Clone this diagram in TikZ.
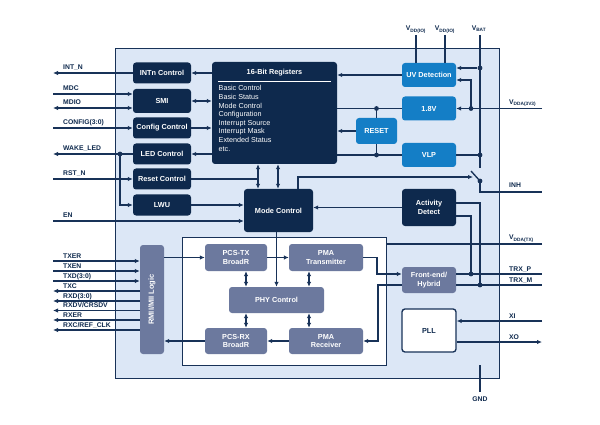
\documentclass[tikz,border=0pt]{standalone}
\usepackage{fontspec}
\setmainfont{Liberation Sans}
\usetikzlibrary{arrows.meta,calc}
\definecolor{chipnavy}{RGB}{14,41,77}
\definecolor{wireblue}{RGB}{24,50,88}
\definecolor{powerblue}{RGB}{20,126,198}
\definecolor{phygrey}{RGB}{108,121,158}
\definecolor{chipfill}{RGB}{220,231,246}

\begin{document}
\begin{tikzpicture}[x=1pt, y=-1pt, >={Latex[length=5pt,width=4.5pt]},
    wire/.style={draw=wireblue, line width=1.35pt},
    blk/.style={rounded corners=3pt, inner sep=1pt, align=center, text=white,
        font=\fontsize{7.3}{8.7}\selectfont\bfseries},
    navyblk/.style={blk, fill=chipnavy},
    powerblk/.style={blk, fill=powerblue},
    phyblk/.style={blk, fill=phygrey},
    pinlbl/.style={anchor=base west, inner sep=0pt, text=chipnavy,
        font=\fontsize{6.8}{7}\selectfont\bfseries},
    toplbl/.style={pinlbl, anchor=base},
    jdot/.style={circle, fill=wireblue, inner sep=0pt, minimum size=4.8pt}]
    \useasboundingbox (0,0) rectangle (600,425);

    % Chip outline and PHY core
    \node[draw=wireblue, fill=chipfill, line width=1.35pt, inner sep=0pt, anchor=north west,
        minimum width=384pt, minimum height=330pt] (chip) at (115,48) {};
    \node[draw=wireblue, fill=white, line width=1.35pt, inner sep=0pt, anchor=north west,
        minimum width=204pt, minimum height=128pt] (phybox) at (182,237) {};

    % Left control blocks
    \node[navyblk, minimum width=58pt, minimum height=21pt] (intn) at (162,73) {INTn Control};
    \node[navyblk, minimum width=58pt, minimum height=24pt] (smi) at (162,101) {SMI};
    \node[navyblk, minimum width=58pt, minimum height=21pt] (cfg) at (162,128) {Config Control};
    \node[navyblk, minimum width=58pt, minimum height=21pt] (led) at (162,154) {LED Control};
    \node[navyblk, minimum width=58pt, minimum height=21pt] (rstc) at (162,179) {Reset Control};
    \node[navyblk, minimum width=58pt, minimum height=21pt] (lwu) at (162,205) {LWU};

    % Register file
    \node[navyblk, minimum width=125pt, minimum height=102pt] (regs) at (274.5,113) {};
    \node[blk] (regstitle) at (274.5,73) {16-Bit Registers};
    \draw[white, line width=0.6pt] ($(regs.north west)+(6,20)$) -- ($(regs.north east)+(-6,20)$);
    \node[anchor=north west, inner sep=0pt, align=left, text=white,
        font=\fontsize{7.2}{8.6}\selectfont] (regslist) at (218.5,85.5)
        {Basic Control\\Basic Status\\Mode Control\\Configuration\\Interrupt Source\\Interrupt Mask\\Extended Status\\etc.};

    \node[navyblk, minimum width=69pt, minimum height=43pt] (mode) at (278.5,210.5) {Mode Control};

    % Power and right side blocks
    \node[powerblk, minimum width=54pt, minimum height=24pt] (uv) at (429,75) {UV Detection};
    \node[powerblk, minimum width=54pt, minimum height=24pt] (v18) at (429,108.5) {1.8V};
    \node[powerblk, minimum width=41pt, minimum height=26pt] (reset) at (376.5,131) {RESET};
    \node[powerblk, minimum width=54pt, minimum height=24pt] (vlp) at (429,155) {VLP};
    \node[navyblk, minimum width=54pt, minimum height=37pt] (act) at (429,207.5) {Activity\\Detect};
    \node[phyblk, minimum width=54pt, minimum height=26pt] (fe) at (429,280) {Front-end/\\Hybrid};
    \node[blk, draw=wireblue, line width=1.35pt, fill=white, text=chipnavy,
        minimum width=54pt, minimum height=43pt] (pll) at (429,330.5) {PLL};

    % PHY blocks
    \node[phyblk, minimum width=62pt, minimum height=27pt] (pcstx) at (236,257.5) {PCS-TX\\BroadR};
    \node[phyblk, minimum width=74pt, minimum height=27pt] (pmatx) at (326,257.5) {PMA\\Transmitter};
    \node[phyblk, minimum width=95pt, minimum height=26pt] (phyctl) at (276.5,300) {PHY Control};
    \node[phyblk, minimum width=62pt, minimum height=26pt] (pcsrx) at (236,341) {PCS-RX\\BroadR};
    \node[phyblk, minimum width=74pt, minimum height=26pt] (pmarx) at (326,341) {PMA\\Receiver};
    \node[phyblk, minimum width=24pt, minimum height=109pt] (rmii) at (152,299.5) {};
    \node[rotate=90, text=white, font=\fontsize{7.5}{8}\selectfont\bfseries] (rmiitext) at (rmii.center) {RMII/MII Logic};

    % Pin ends
    \coordinate (pINT) at (53,73);
    \coordinate (pMDC) at (53,94);
    \coordinate (pMDIO) at (53,108);
    \coordinate (pCFG) at (53,128);
    \coordinate (pWAKE) at (53,154);
    \coordinate (pRST) at (53,179);
    \coordinate (pEN) at (53,221);
    \coordinate (pTXER) at (53,261);
    \coordinate (pTXEN) at (53,271);
    \coordinate (pTXD) at (53,281);
    \coordinate (pTXC) at (53,291);
    \coordinate (pRXD) at (53,301);
    \coordinate (pRXDV) at (53,310.5);
    \coordinate (pRXER) at (53,320);
    \coordinate (pRXC) at (53,330);
    \coordinate (pVDD1) at (416,35);
    \coordinate (pVDD2) at (445,35);
    \coordinate (pVBAT) at (480,35);
    \coordinate (pVDDA) at (542,108.5);
    \coordinate (pINH) at (542,192);
    \coordinate (pVTX) at (542,244);
    \coordinate (pTRXP) at (542,274);
    \coordinate (pTRXM) at (542,285);
    \coordinate (pXI) at (542,321);
    \coordinate (pXO) at (542,342);
    \coordinate (pGNDin) at (480,365);
    \coordinate (pGND) at (480,392);

    % Left pin wires
    \draw[wire,->] (intn) -- (pINT);
    \draw[wire,->] (pMDC) -- (pMDC -| smi.west);
    \draw[wire,<->] (pMDIO) -- (pMDIO -| smi.west);
    \draw[wire,->] (pCFG) -- (cfg);
    \draw[wire,->] (led) -- (pWAKE);
    \node[jdot] (dWAKE) at (120,154) {};
    \draw[wire,->] (dWAKE.center) |- (lwu);
    \draw[wire,->] (pRST) -- (rstc);
    \draw[wire,->] (pEN) -- (pEN -| mode.west);

    \node[pinlbl] (lINT) at (63,69.5) {INT\_N};
    \node[pinlbl] (lMDC) at (63,90.5) {MDC};
    \node[pinlbl] (lMDIO) at (63,104.5) {MDIO};
    \node[pinlbl] (lCFG) at (63,124.5) {CONFIG(3:0)};
    \node[pinlbl] (lWAKE) at (63,150.5) {WAKE\_LED};
    \node[pinlbl] (lRST) at (63,175.5) {RST\_N};
    \node[pinlbl] (lEN) at (63,217.5) {EN};

    % Registers and control links
    \draw[wire,->] (regs.west |- intn) -- (intn);
    \draw[wire,<->] (smi) -- (regs.west |- smi);
    \draw[wire,->] (cfg) -- (regs.west |- cfg);
    \draw[wire,->] (regs.west |- led) -- (led);
    \coordinate (lnkL) at ([xshift=-16.5pt]regs.south);
    \coordinate (lnkR) at ([xshift=3.5pt]regs.south);
    \draw[wire,<->] (lnkL) -- (lnkL |- mode.north);
    \draw[wire,<->] (lnkR) -- (lnkR |- mode.north);
    \draw[wire] (rstc) -- (rstc -| lnkL);
    \draw[wire,->] (lwu) -- (lwu -| mode.west);
    \draw[wire,->] (phyctl.north |- mode.south) -- (phyctl.north);

    % Supplies
    \draw[wire] (pVDD1) -- (pVDD1 |- uv.north);
    \draw[wire] (pVDD2) -- (pVDD2 |- uv.north);
    \coordinate (vbatEnd) at (480,168);
    \draw[wire] (pVBAT) -- (vbatEnd);
    \node[jdot] (dVB1) at (480,68) {};
    \node[jdot] (dVB2) at (480,155) {};
    \draw[wire,->] (dVB1) -- (dVB1 -| uv.east);
    \draw[wire,->] (pVDDA) -- (v18);
    \node[jdot] (dVDDA) at (471,108.5) {};
    \draw[wire,->] (dVDDA.center) |- ([yshift=-5pt]uv.east);
    \draw[wire,->] (uv) -- (uv -| regs.east);
    \draw[wire] (v18) -- (v18 -| regs.east);
    \node[jdot] (dV18) at (376.5,108.5) {};
    \draw[wire] (dV18.center) -- (reset);
    \draw[wire,->] (reset) -- (reset -| regs.east);
    \node[jdot] (dVLP) at (376.5,155) {};
    \draw[wire] (reset) -- (dVLP.center);
    \draw[wire] (vlp) -- (vlp -| regs.east);
    \draw[wire] (vlp) -- (dVB2.center);

    \node[toplbl] (lVDD1) at (416,31) {V\textsubscript{DD(IO)}};
    \node[toplbl] (lVDD2) at (445,31) {V\textsubscript{DD(IO)}};
    \node[toplbl] (lVBAT) at (479,31) {V\textsubscript{BAT}};
    \node[pinlbl] (lVDDA) at (509,104.5) {V\textsubscript{DDA(3V3)}};

    % INH switch
    \node[jdot] (dSW) at (480,181) {};
    \coordinate (swBlade) at (471,171);
    \draw[wire] (dSW.center) -- (swBlade);
    \coordinate (swA) at (473,177);
    \draw[wire,->] ([xshift=19.5pt]mode.north) |- (swA);
    \draw[wire] (dSW.center) |- (pINH);
    \node[pinlbl] (lINH) at (509,187) {INH};

    % Activity detect and line interface
    \draw[wire,->] (act) -- (act -| mode.east);
    \node[jdot] (dTRXP) at (471,274) {};
    \node[jdot] (dTRXM) at (480,285) {};
    \draw[wire] ([yshift=4.5pt]act.east) -| (dTRXM.center);
    \draw[wire] ([yshift=-8.5pt]act.east) -| (dTRXP.center);
    \draw[wire] (pVTX) -- (pVTX -| phybox.east);
    \draw[wire] (fe.east |- pTRXP) -- (pTRXP);
    \draw[wire] (fe.east |- pTRXM) -- (pTRXM);
    \node[pinlbl] (lVTX) at (509,240) {V\textsubscript{DDA(TX)}};
    \node[pinlbl] (lTRXP) at (509,271) {TRX\_P};
    \node[pinlbl] (lTRXM) at (509,282) {TRX\_M};

    % PHY data path
    \draw[wire,->] (pcstx) -- (pmatx);
    \draw[wire,->] (pmarx) -- (pcsrx);
    \draw[wire,<->] ([xshift=10pt]pcstx.south) -- ([xshift=10pt]pcstx.south |- phyctl.north);
    \draw[wire,<->] ([xshift=-17pt]pmatx.south) -- ([xshift=-17pt]pmatx.south |- phyctl.north);
    \draw[wire,<->] ([xshift=10pt]pcsrx.north) -- ([xshift=10pt]pcsrx.north |- phyctl.south);
    \draw[wire,<->] ([xshift=-17pt]pmarx.north) -- ([xshift=-17pt]pmarx.north |- phyctl.south);
    \coordinate (bendTX) at (377,257.5);
    \coordinate (bendRX) at (378,285);
    \draw[wire,->] (pmatx) -- (bendTX) |- (fe.west |- pTRXP);
    \draw[wire,->] (fe.west |- pTRXM) -- (bendRX) |- (pmarx);
    \draw[wire,->] (rmii.east |- pcstx) -- (pcstx);
    \draw[wire,->] (pcsrx) -- (rmii.east |- pcsrx);

    % MII pins
    \draw[wire,->] (pTXER) -- (pTXER -| rmii.west);
    \draw[wire,->] (pTXEN) -- (pTXEN -| rmii.west);
    \draw[wire,->] (pTXD) -- (pTXD -| rmii.west);
    \draw[wire,->] (pTXC -| rmii.west) -- (pTXC);
    \draw[wire,->] (pRXD -| rmii.west) -- (pRXD);
    \draw[wire,->] (pRXDV -| rmii.west) -- (pRXDV);
    \draw[wire,->] (pRXER -| rmii.west) -- (pRXER);
    \draw[wire,->] (pRXC -| rmii.west) -- (pRXC);
    \node[pinlbl] (lTXER) at (63,258) {TXER};
    \node[pinlbl] (lTXEN) at (63,268) {TXEN};
    \node[pinlbl] (lTXD) at (63,278) {TXD(3:0)};
    \node[pinlbl] (lTXC) at (63,288) {TXC};
    \node[pinlbl] (lRXD) at (63,298) {RXD(3:0)};
    \node[pinlbl] (lRXDV) at (63,307.5) {RXDV/CRSDV};
    \node[pinlbl] (lRXER) at (63,317) {RXER};
    \node[pinlbl] (lRXC) at (63,327) {RXC/REF\_CLK};

    % Clock and ground
    \draw[wire,->] (pXI) -- (pXI -| pll.east);
    \draw[wire,->] (pXO -| pll.east) -- (pXO);
    \node[pinlbl] (lXI) at (509,318) {XI};
    \node[pinlbl] (lXO) at (509,339) {XO};
    \draw[wire] (pGNDin) -- (pGND);
    \node[toplbl] (lGND) at (480,401) {GND};
\end{tikzpicture}
\end{document}
